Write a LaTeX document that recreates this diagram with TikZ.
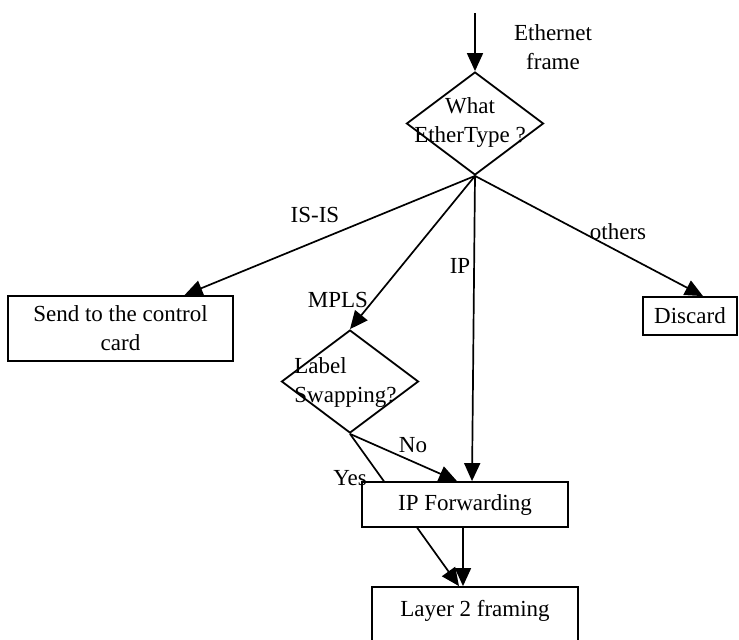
\documentclass[tikz,border=0pt]{standalone}
\usepackage{fontspec}
\setmainfont{Liberation Serif}
\usepackage{tikz}
\usetikzlibrary{arrows.meta,shapes.geometric,backgrounds}

\begin{document}
\begin{tikzpicture}[x=0.5pt, y=-0.5pt,
  box/.style={draw, line width=0.9pt, fill=white, inner sep=0pt, align=center, font=\fontsize{11.5}{14.5}\selectfont},
  dec/.style={draw, diamond, line width=0.9pt, inner sep=0pt, minimum width=68.5pt, minimum height=51.5pt},
  lbl/.style={inner sep=0pt, font=\fontsize{11.5}{14.5}\selectfont},
  arr/.style={-{Triangle[length=9pt, width=8pt]}, line width=0.85pt}]
\useasboundingbox (0,0) rectangle (739,639);
\coordinate (in) at (475,13);
\node[dec] (q1) at (475,123.5) {};
\node[lbl, align=center] (q1t) at (470,122.5) {What\\EtherType ?};
\node[dec] (q2) at (350,381.5) {};
\node[lbl, align=left, anchor=west] (q2t) at (294,382.5) {Label\\Swapping?};
\node[box, minimum width=112.5pt, minimum height=32.5pt] (send) at (120.5,328.5) {Send to the control\\card};
\node[box, minimum width=47pt, minimum height=19pt] (discard) at (690,316) {Discard};
\node[box, minimum width=103pt, minimum height=22.5pt] (ip) at (465,504.5) {IP Forwarding};
\node[box, minimum width=103pt, minimum height=31pt, text depth=10pt] (l2) at (475,618) {Layer 2 framing};
% labels
\node[lbl, align=center] (eth) at (553,47.5) {Ethernet\\frame};
\node[lbl] (isis) at (315,215) {IS-IS};
\node[lbl] (mpls) at (338,300) {MPLS};
\node[lbl] (iplbl) at (460,266) {IP};
\node[lbl] (others) at (618,232) {others};
\node[lbl] (no) at (413,445) {No};
\node[lbl] (yes) at (350,478) {Yes};
% arrows
\draw[arr] (in) -- (q1.north);
\draw[arr] (q1.south) -- ([xshift=32pt]send.north);
\draw[arr] (q1.south) -- (q2.north);
\draw[arr] (q1.south) -- ([xshift=3.5pt]ip.north);
\draw[arr] (q1.south) -- ([xshift=6.5pt]discard.north);
\draw[arr] (q2.south) -- ([xshift=-4pt]ip.north);
\begin{pgfonlayer}{background}
\draw[arr] (q2.south) -- ([xshift=-8pt]l2.north);
\end{pgfonlayer}
\draw[arr] ([xshift=-1pt]ip.south) -- ([xshift=-1pt]ip.south |- l2.north);
\end{tikzpicture}
\end{document}
